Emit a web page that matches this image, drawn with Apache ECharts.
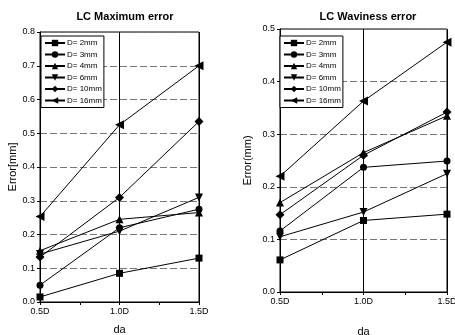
<!DOCTYPE html>
<html><head><meta charset="utf-8">
<script src="https://cdn.jsdelivr.net/npm/echarts@6/dist/echarts.min.js"></script>
<style>html,body{margin:0;padding:0;background:#fff}#c{width:455px;height:335px}</style>
</head><body><div id="c"></div>
<script>
const xVals = [0.5, 1.0, 1.5];
const seriesNames = ['D= 2mm','D= 3mm','D= 4mm','D= 6mm','D= 10mm','D= 16mm'];
// LC Maximum error
const maxErr2 = [0.015, 0.085, 0.13];
const maxErr3 = [0.05, 0.22, 0.275];
const maxErr4 = [0.152, 0.245, 0.265];
const maxErr6 = [0.142, 0.21, 0.31];
const maxErr10 = [0.133, 0.31, 0.535];
const maxErr16 = [0.253, 0.525, 0.70];
// LC Waviness error
const wavErr2 = [0.061, 0.136, 0.148];
const wavErr3 = [0.116, 0.237, 0.249];
const wavErr4 = [0.17, 0.265, 0.335];
const wavErr6 = [0.105, 0.152, 0.225];
const wavErr10 = [0.147, 0.26, 0.342];
const wavErr16 = [0.22, 0.363, 0.475];
const yTicksLeft = [0, 0.8, 0.1];
const yTicksRight = [0, 0.5, 0.1];

const maxData = [maxErr2, maxErr3, maxErr4, maxErr6, maxErr10, maxErr16];
const wavData = [wavErr2, wavErr3, wavErr4, wavErr6, wavErr10, wavErr16];
const symbols = ['rect','circle','triangle','triangle','diamond','triangle'];
const rotates = [0,0,0,180,0,90];
const sizes = [7,7,8,8,9,9];

const font = 'Arial, "Liberation Sans", sans-serif';
function xAxis(gi, gap){
  return {type:'value', gridIndex:gi, min:0.5, max:1.5, interval:0.5,
    name:'da', nameLocation:'middle', nameGap:gap,
    nameTextStyle:{color:'#000', fontSize:11, fontFamily:font},
    axisLine:{lineStyle:{color:'#000'}},
    axisTick:{inside:false, length:3, lineStyle:{color:'#000'}},
    minorTick:{show:true, splitNumber:2, length:3, lineStyle:{color:'#000'}},
    axisLabel:{color:'#000', fontSize:9, fontFamily:font, margin:5, formatter:v=>v.toFixed(1)+'D'},
    splitLine:{show:true, lineStyle:{color:'#000', width:1}}};
}
function yAxis(gi, t, name, gap){
  return {type:'value', gridIndex:gi, min:t[0], max:t[1], interval:t[2],
    name:name, nameLocation:'middle', nameGap:gap,
    nameTextStyle:{color:'#000', fontSize:11, fontFamily:font},
    axisLine:{show:true, lineStyle:{color:'#000'}},
    axisTick:{show:true, length:3, lineStyle:{color:'#000'}},
    axisLabel:{color:'#000', fontSize:9, fontFamily:font, margin:5, formatter:v=>v.toFixed(1)},
    splitLine:{show:true, lineStyle:{color:'#777', width:1, type:[7,3]}}};
}
const series = [];
[maxData, wavData].forEach((set, gi)=>{
  set.forEach((vals, i)=>{
    series.push({name:seriesNames[i], type:'line', xAxisIndex:gi, yAxisIndex:gi,
      data: xVals.map((x,j)=>[x, vals[j]]),
      symbol:symbols[i], symbolRotate:rotates[i], symbolSize:sizes[i],
      lineStyle:{color:'#000', width:1}, itemStyle:{color:'#000'},
      animation:false});
  });
});
function legend(left, top){
  return {orient:'vertical', left:left, top:top, data:seriesNames,
    itemWidth:20, itemHeight:8, itemGap:3.5, padding:[3,2,3,3],
    borderColor:'#000', borderWidth:1, backgroundColor:'#fff',
    textStyle:{color:'#000', fontSize:8, fontFamily:font, padding:[0,0,0,-3]},
    selectedMode:false, symbolRotate:'inherit'};
}
const chart = echarts.init(document.getElementById('c'), null, {renderer:'canvas'});
chart.setOption({
  animation:false,
  backgroundColor:'#fff',
  title:[
    {text:'LC Maximum error', left:120, top:6, textAlign:'center', textStyle:{fontSize:11, fontWeight:'bold', color:'#000', fontFamily:font}},
    {text:'LC Waviness error', left:363, top:6, textAlign:'center', textStyle:{fontSize:11, fontWeight:'bold', color:'#000', fontFamily:font}}
  ],
  grid:[
    {left:40, right:256, top:32, bottom:33, show:true, borderColor:'#000', borderWidth:1, outerBoundsMode:'none', containLabel:false},
    {left:280, right:8, top:29, bottom:43, show:true, borderColor:'#000', borderWidth:1, outerBoundsMode:'none', containLabel:false}
  ],
  legend:[legend(41,36), legend(280,36)],
  xAxis:[xAxis(0,22), xAxis(1,34)],
  yAxis:[yAxis(0,yTicksLeft,'Error[mm]',22), yAxis(1,yTicksRight,'Error(mm)',27)],
  series:series
});
</script></body></html>
